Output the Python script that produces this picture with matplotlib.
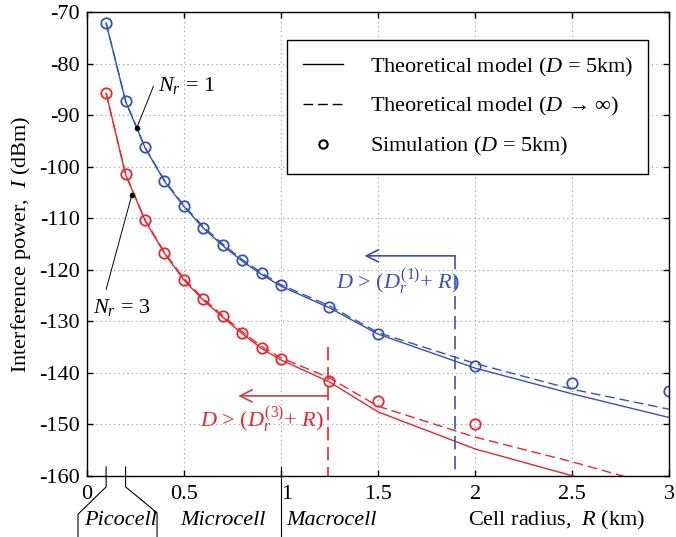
import matplotlib
matplotlib.use('Agg')
import matplotlib.pyplot as plt
from matplotlib.transforms import blended_transform_factory, ScaledTranslation

plt.rcParams['font.family'] = 'serif'
plt.rcParams['font.serif'] = ['Liberation Serif']
plt.rcParams['mathtext.fontset'] = 'custom'
plt.rcParams['mathtext.rm'] = 'Liberation Serif'
plt.rcParams['mathtext.it'] = 'Liberation Serif:italic'
plt.rcParams['axes.unicode_minus'] = False

# cell radius R (km) and interference power I (dBm)
R = [0.1, 0.2, 0.3, 0.4, 0.5, 0.6, 0.7, 0.8, 0.9, 1.0, 1.25, 1.5, 2.0, 2.5, 3.0]

blue_model = [-72.1, -87.3, -96.3, -102.8, -107.7, -111.9, -115.3, -118.3,
              -120.9, -123.2, -127.4, -132.5, -139.1, -144.1, -148.7]
blue_inf = [-72.1, -87.2, -96.2, -102.6, -107.5, -111.6, -115.0, -118.0,
            -120.6, -122.9, -127.0, -132.2, -138.2, -143.2, -147.1]
blue_sim = [-72.1, -87.2, -96.2, -102.7, -107.6, -111.8, -115.2, -118.2,
            -120.7, -123.0, -127.2, -132.4, -138.6, -142.0, -143.6]

red_model = [-85.7, -101.5, -110.4, -116.8, -122.0, -125.9, -129.2, -132.4,
             -135.3, -137.5, -141.8, -147.6, -154.8, -160.0, -164.5]
red_inf = [-85.7, -101.4, -110.3, -116.6, -121.7, -125.6, -128.9, -132.0,
           -134.9, -137.1, -141.0, -146.5, -152.5, -157.3, -162.6]
R_red_sim = [0.1, 0.2, 0.3, 0.4, 0.5, 0.6, 0.7, 0.8, 0.9, 1.0, 1.25, 1.5, 2.0]
red_sim = [-85.7, -101.4, -110.3, -116.7, -121.9, -125.7, -129.0, -132.2,
           -135.1, -137.3, -141.7, -145.4, -150.0]

# D > (D_r + R) boundaries
R_bound1, I_arrow1, R_tip1 = 1.897, -117.3, 1.43
R_bound3, I_arrow3, R_tip3, I_top3 = 1.24, -144.5, 0.78, -135.0

xticks = [0, 0.5, 1, 1.5, 2, 2.5, 3]
xticklabels = ['0', '0.5', '1', '1.5', '2', '2.5', '3']
yticks = list(range(-160, -69, 10))

blue = '#3454b4'
red = '#e8262d'
fs = 16

fig = plt.figure(figsize=(6.76, 5.37), dpi=100)
ax = fig.add_axes([0.1283, 0.1141, 0.8618, 0.8630])

lw = 1.0
dash = (0, (7, 3.5))
ax.plot(R, blue_model, color=blue, lw=lw)
ax.plot(R, blue_inf, color=blue, lw=lw, linestyle=dash)
ax.plot(R, blue_sim, 'o', mfc='none', mec=blue, ms=7.5, mew=1.3)
ax.plot(R, red_model, color=red, lw=lw)
ax.plot(R, red_inf, color=red, lw=lw, linestyle=dash)
ax.plot(R_red_sim, red_sim, 'o', mfc='none', mec=red, ms=7.5, mew=1.3)

# legend handles
h1, = ax.plot([], [], color='k', lw=lw)
h2, = ax.plot([], [], color='k', lw=lw, linestyle=dash)
h3, = ax.plot([], [], 'o', mfc='none', mec='k', ms=6, mew=1.5)
leg = ax.legend([h1, h2, h3],
                ['Theoretical model ($D$ = 5km)',
                 'Theoretical model ($D$ → ∞)',
                 'Simulation ($D$ = 5km)'],
                loc='upper right', bbox_to_anchor=(0.964, 0.940),
                borderaxespad=0, fontsize=fs, frameon=True, fancybox=False,
                framealpha=1, edgecolor='k', handlelength=1.8,
                handletextpad=1.2, labelspacing=0.75, borderpad=0.7)
leg.get_frame().set_linewidth(1.0)

# N_r annotations
ax.plot([0.257], [-92.5], 'o', color='k', ms=3)
ax.plot([0.257, 0.343], [-92.5, -84.4], color='k', lw=0.7)
ax.text(0.365, -84.2, '$N_r$ = 1', fontsize=fs, ha='left', va='center')
ax.plot([0.232], [-105.5], 'o', color='k', ms=3)
ax.plot([0.232, 0.10], [-105.5, -123.8], color='k', lw=0.7)
ax.text(0.18, -127.4, '$N_r$ = 3', fontsize=fs, ha='center', va='center')

# boundary lines and arrows
ax.plot([R_bound1, R_bound1], [I_arrow1, -160], color=blue, lw=1.2,
        linestyle=(0, (8, 4)))
ax.annotate('', xy=(R_tip1, I_arrow1), xytext=(R_bound1, I_arrow1),
            arrowprops=dict(arrowstyle='->', color=blue, lw=1.2,
                            mutation_scale=22, shrinkA=0, shrinkB=0))
ax.text(1.60, -122.4, '$D$ > ($D_r^{(1)}$+ $R$)', color=blue, fontsize=fs,
        ha='center', va='center')

ax.plot([R_bound3, R_bound3], [I_top3, -160], color=red, lw=1.2,
        linestyle=(0, (8, 4)))
ax.annotate('', xy=(R_tip3, I_arrow3), xytext=(R_bound3, I_arrow3),
            arrowprops=dict(arrowstyle='->', color='#c8404a', lw=1.2,
                            mutation_scale=22, shrinkA=0, shrinkB=0))
ax.text(0.90, -149.2, '$D$ > ($D_r^{(3)}$+ $R$)', color=red, fontsize=fs,
        ha='center', va='center')

ax.set_xlim(0, 3)
ax.set_ylim(-160, -70)
ax.set_xticks(xticks)
ax.set_xticklabels(xticklabels)
ax.set_yticks(yticks)
ax.set_yticklabels([str(v) for v in yticks])
ax.tick_params(direction='in', top=True, right=True, length=4, width=1,
               labelsize=fs)
ax.tick_params(axis='x', pad=7)
ax.tick_params(axis='y', pad=5)
ax.grid(True, color='0.6', linestyle=(0, (1, 3)), lw=0.8)
for s in ax.spines.values():
    s.set_linewidth(1.0)

# the "1" label sits just right of the macrocell divider
lab1 = ax.get_xticklabels()[2]
lab1.set_transform(lab1.get_transform() + ScaledTranslation(6 / 100, 0, fig.dpi_scale_trans))

ax.set_ylabel('Interference power,  $I$ (dBm)', fontsize=fs, labelpad=4)

# cell-type brackets below the axis
tr = blended_transform_factory(ax.transData, ax.transAxes)
kw = dict(color='k', lw=0.8, transform=tr, clip_on=False)
ax.plot([0.1, 0.1, -0.045, -0.045], [0.019, -0.024, -0.083, -0.135], **kw)
ax.plot([0.2, 0.2, 0.362, 0.362], [0.019, -0.024, -0.080, -0.135], **kw)
ax.plot([1.0, 1.0], [0.019, -0.135], **kw)

fig.text(0.178, 0.030, 'Picocell', fontsize=fs, style='italic', ha='center', va='center')
fig.text(0.330, 0.030, 'Microcell', fontsize=fs, style='italic', ha='center', va='center')
fig.text(0.490, 0.030, 'Macrocell', fontsize=fs, style='italic', ha='center', va='center')
fig.text(0.824, 0.030, 'Cell radius,  $R$ (km)', fontsize=fs, ha='center', va='center')

fig.savefig('out.png', dpi=100)
